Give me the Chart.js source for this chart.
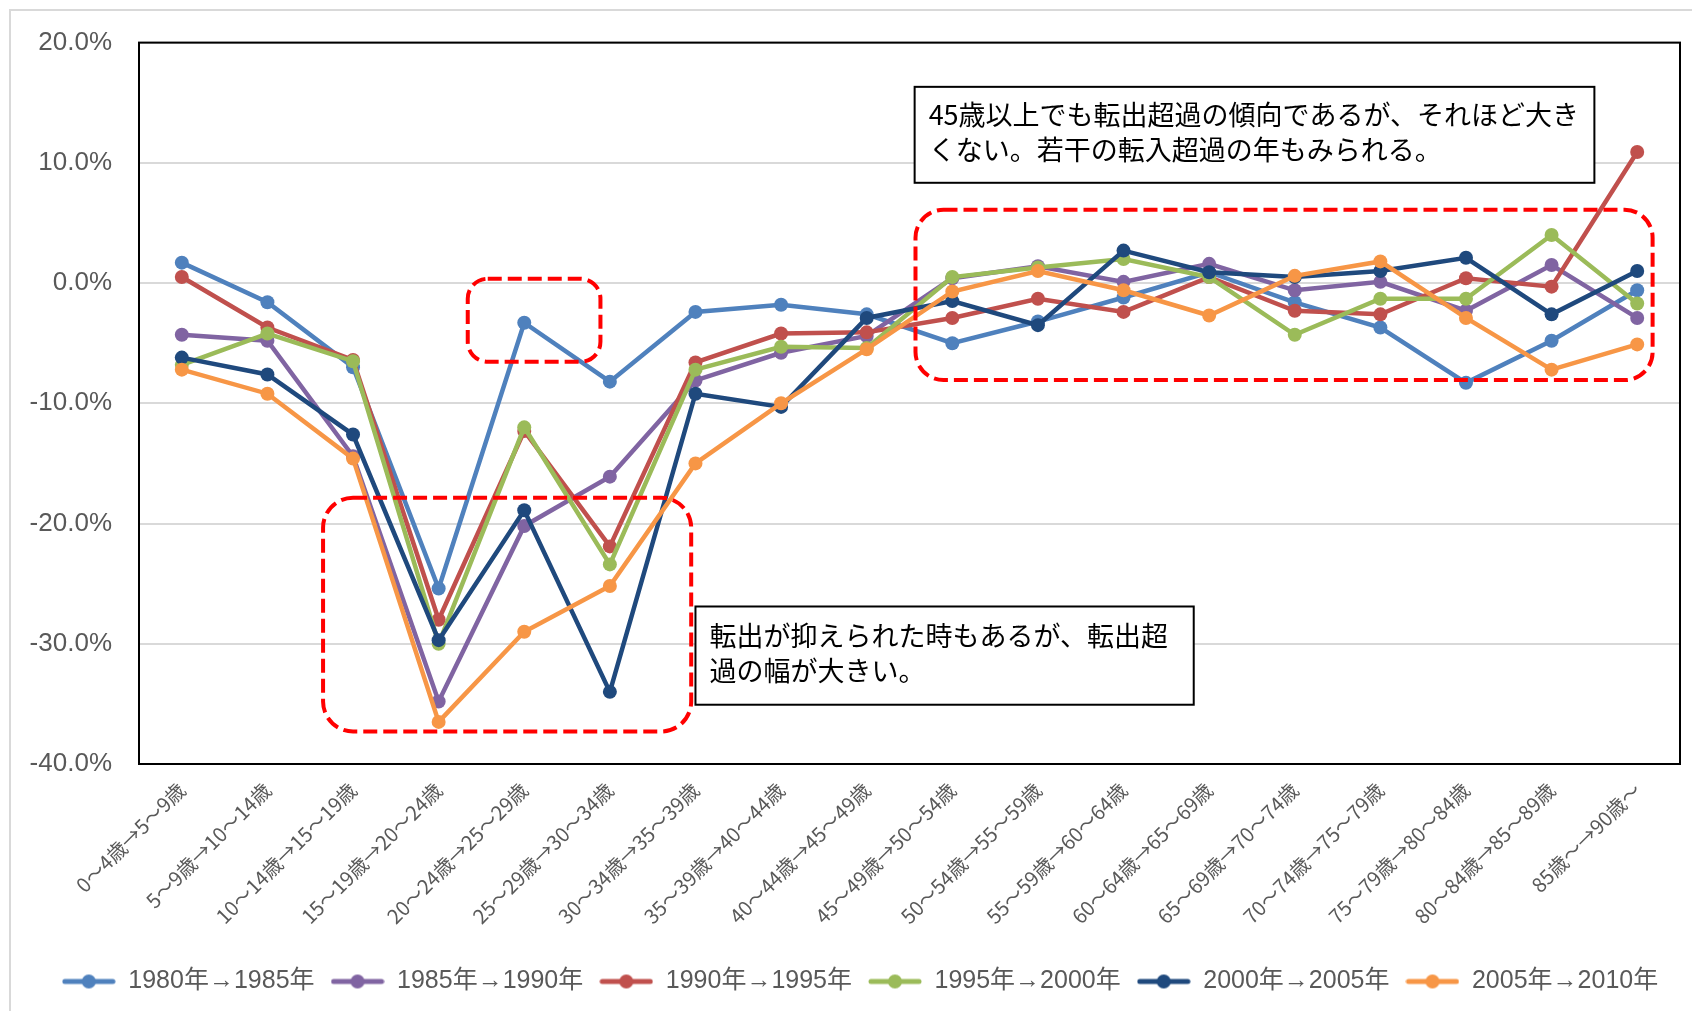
<!DOCTYPE html>
<html lang="ja">
<head>
<meta charset="UTF-8">
<title>年齢階級別純移動率の推移</title>
<script src="https://cdn.jsdelivr.net/npm/chart.js"></script>
<style>
  html, body { margin: 0; padding: 0; background: #fff; overflow: hidden; }
  .frame { position: absolute; left: 9px; top: 9px; width: 1700px; height: 1010px; border: 2px solid #d9d9d9; }
  .wrap { position: absolute; left: 0; top: 0; width: 1692px; height: 1011px; }
</style>
</head>
<body>
<div class="frame"></div>
<div class="wrap"><canvas id="chart"></canvas></div>
<script>
// 年齢階級（5年後の移動）
const ageLabels = [
  '0～4歳→5～9歳', '5～9歳→10～14歳', '10～14歳→15～19歳', '15～19歳→20～24歳',
  '20～24歳→25～29歳', '25～29歳→30～34歳', '30～34歳→35～39歳', '35～39歳→40～44歳',
  '40～44歳→45～49歳', '45～49歳→50～54歳', '50～54歳→55～59歳', '55～59歳→60～64歳',
  '60～64歳→65～69歳', '65～69歳→70～74歳', '70～74歳→75～79歳', '75～79歳→80～84歳',
  '80～84歳→85～89歳', '85歳～→90歳～'
];

const seriesNames = ['1980年→1985年', '1985年→1990年', '1990年→1995年', '1995年→2000年', '2000年→2005年', '2005年→2010年'];
const seriesColors = ['#4F81BD', '#8064A2', '#C0504D', '#9BBB59', '#1F497D', '#F79646'];

// 純移動率（%）
const rate1980 = [1.7, -1.6, -7.0, -25.4, -3.3, -8.2, -2.4, -1.8, -2.6, -5.0, -3.2, -1.2, 0.9, -1.6, -3.7, -8.3, -4.8, -0.6];
const rate1985 = [-4.3, -4.8, -14.4, -34.8, -20.2, -16.1, -8.1, -5.8, -4.4, 0.4, 1.4, 0.1, 1.6, -0.6, 0.1, -2.3, 1.5, -2.9];
const rate1990 = [0.5, -3.7, -6.4, -28.0, -12.3, -21.9, -6.6, -4.2, -4.1, -2.9, -1.3, -2.4, 0.5, -2.3, -2.6, 0.4, -0.3, 10.9];
const rate1995 = [-6.8, -4.2, -6.5, -30.0, -12.0, -23.4, -7.2, -5.3, -5.4, 0.5, 1.3, 2.0, 0.5, -4.3, -1.3, -1.3, 4.0, -1.7];
const rate2000 = [-6.2, -7.6, -12.6, -29.7, -18.9, -34.0, -9.2, -10.3, -2.9, -1.5, -3.5, 2.7, 0.9, 0.5, 1.0, 2.1, -2.6, 1.0];
const rate2005 = [-7.2, -9.2, -14.6, -36.5, -29.0, -25.2, -15.0, -10.0, -5.5, -0.7, 1.0, -0.6, -2.7, 0.6, 1.8, -2.9, -7.2, -5.1];

const yTicks = [-40, -30, -20, -10, 0, 10, 20];

// 注記（軸の単位: x=カテゴリ番号, y=%）
const noteBoxes = [
  { kind: 'dash', x0: 3.34, x1: 4.89, y0: 0.36, y1: -6.55, r: 20 },
  { kind: 'dash', x0: 1.65, x1: 5.95, y0: -17.85, y1: -37.3, r: 30 },
  { kind: 'dash', x0: 8.57, x1: 17.18, y0: 6.1, y1: -8.07, r: 28 },
  { kind: 'text', x0: 8.56, x1: 16.5, y0: 16.32, y1: 8.34,
    lines: ['45歳以上でも転出超過の傾向であるが、それほど大き', 'くない。若干の転入超過の年もみられる。'] },
  { kind: 'text', x0: 6.0, x1: 11.82, y0: -26.9, y1: -35.07,
    lines: ['転出が抑えられた時もあるが、転出超', '過の幅が大きい。'] }
];

const allRates = [rate1980, rate1985, rate1990, rate1995, rate2000, rate2005];

const FONT = '"Liberation Sans", Arial, "Noto Sans CJK JP", sans-serif';

function legendMark(color) {
  const c = document.createElement('canvas');
  c.width = 54; c.height = 18;
  const g = c.getContext('2d');
  g.strokeStyle = color; g.lineWidth = 5; g.lineCap = 'round';
  g.beginPath(); g.moveTo(3, 9); g.lineTo(51, 9); g.stroke();
  g.fillStyle = color;
  g.beginPath(); g.arc(27, 9, 7, 0, Math.PI * 2); g.fill();
  return c;
}
const marks = seriesColors.map(legendMark);

function roundRect(ctx, x, y, w, h, r) {
  ctx.beginPath();
  ctx.moveTo(x + r, y);
  ctx.arcTo(x + w, y, x + w, y + h, r);
  ctx.arcTo(x + w, y + h, x, y + h, r);
  ctx.arcTo(x, y + h, x, y, r);
  ctx.arcTo(x, y, x + w, y, r);
  ctx.closePath();
}

const framePlugin = {
  id: 'frame',
  afterLayout(chart) {
    // 凡例を少し右へ
    if (chart.legend) {
      chart.legend.left += 20;
      chart.legend.right += 20;
    }
  },
  beforeDatasetsDraw(chart) {
    const { ctx, chartArea: a } = chart;
    ctx.save();
    ctx.strokeStyle = '#000';
    ctx.lineWidth = 2;
    ctx.strokeRect(a.left, a.top, a.right - a.left, a.bottom - a.top);
    ctx.restore();
  }
};

const notesPlugin = {
  id: 'notes',
  afterDatasetsDraw(chart) {
    const { ctx } = chart;
    const xs = chart.scales.x, ys = chart.scales.y;
    ctx.save();
    noteBoxes.forEach(b => {
      const l = xs.getPixelForValue(b.x0), r = xs.getPixelForValue(b.x1);
      const t = ys.getPixelForValue(b.y0), btm = ys.getPixelForValue(b.y1);
      if (b.kind === 'dash') {
        ctx.strokeStyle = '#FF0000';
        ctx.lineWidth = 4;
        ctx.setLineDash([14, 6]);
        roundRect(ctx, l, t, r - l, btm - t, b.r);
        ctx.stroke();
      } else {
        ctx.setLineDash([]);
        ctx.fillStyle = '#fff';
        ctx.fillRect(l, t, r - l, btm - t);
        ctx.strokeStyle = '#000';
        ctx.lineWidth = 2;
        ctx.strokeRect(l, t, r - l, btm - t);
        ctx.fillStyle = '#000';
        ctx.font = '27px "Noto Sans CJK JP", sans-serif';
        ctx.textBaseline = 'middle';
        const h = btm - t;
        b.lines.forEach((s, i) => {
          ctx.fillText(s, l + 14, t + h * 0.42 + (i - 0.5) * 35 + 5);
        });
      }
    });
    ctx.restore();
  }
};

new Chart(document.getElementById('chart'), {
  type: 'line',
  data: {
    labels: ageLabels,
    datasets: allRates.map((d, i) => ({
      label: seriesNames[i],
      data: d,
      borderColor: seriesColors[i],
      backgroundColor: seriesColors[i],
      pointBackgroundColor: seriesColors[i],
      pointBorderColor: seriesColors[i],
      borderWidth: 4.5,
      pointRadius: 7,
      pointBorderWidth: 0,
      tension: 0,
      order: seriesNames.length - i
    }))
  },
  options: {
    responsive: true,
    maintainAspectRatio: false,
    animation: false,
    layout: { padding: { top: 41, right: 12, left: 0, bottom: 7 } },
    scales: {
      x: {
        offset: true,
        grid: { display: false },
        border: { display: false },
        ticks: {
          autoSkip: false,
          maxRotation: 45,
          minRotation: 45,
          padding: 6,
          color: '#595959',
          font: { family: '"Noto Sans CJK JP", sans-serif', size: 20 }
        },
        afterFit(scale) { scale.height = 189; }
      },
      y: {
        min: -40,
        max: 20,
        afterBuildTicks(scale) { scale.ticks = yTicks.map(v => ({ value: v })); },
        grid: { color: '#d9d9d9', lineWidth: 2, drawTicks: false },
        border: { display: false },
        ticks: {
          padding: 27,
          color: '#595959',
          font: { family: FONT, size: 26 },
          callback: v => v.toFixed(1) + '%'
        },
        afterFit(scale) { scale.width = 139; }
      }
    },
    plugins: {
      tooltip: { enabled: false },
      legend: {
        position: 'bottom',
        labels: {
          usePointStyle: true,
          pointStyleWidth: 54,
          padding: 16,
          color: '#595959',
          font: { family: FONT, size: 25 },
          sort: (a, b) => a.datasetIndex - b.datasetIndex,
          generateLabels(chart) {
            return Chart.defaults.plugins.legend.labels.generateLabels(chart).map(it => {
              it.pointStyle = marks[it.datasetIndex];
              return it;
            });
          }
        }
      }
    }
  },
  plugins: [framePlugin, notesPlugin]
});
</script>
</body>
</html>
